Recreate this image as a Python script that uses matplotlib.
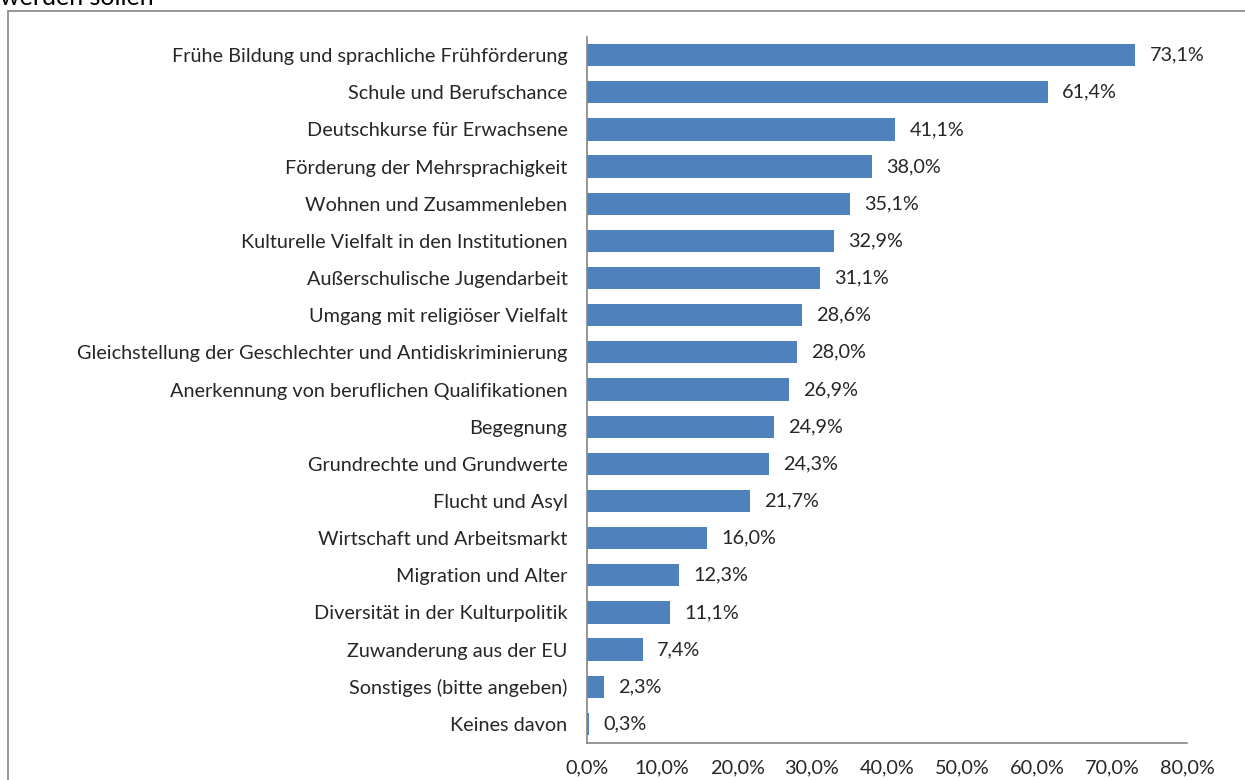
import matplotlib.pyplot as plt
from matplotlib.patches import Rectangle

plt.rcParams['font.family'] = ['Lato', 'DejaVu Sans']

categories = [
    "Frühe Bildung und sprachliche Frühförderung",
    "Schule und Berufschance",
    "Deutschkurse für Erwachsene",
    "Förderung der Mehrsprachigkeit",
    "Wohnen und Zusammenleben",
    "Kulturelle Vielfalt in den Institutionen",
    "Außerschulische Jugendarbeit",
    "Umgang mit religiöser Vielfalt",
    "Gleichstellung der Geschlechter und Antidiskriminierung",
    "Anerkennung von beruflichen Qualifikationen",
    "Begegnung",
    "Grundrechte und Grundwerte",
    "Flucht und Asyl",
    "Wirtschaft und Arbeitsmarkt",
    "Migration und Alter",
    "Diversität in der Kulturpolitik",
    "Zuwanderung aus der EU",
    "Sonstiges (bitte angeben)",
    "Keines davon",
]
values = [73.1, 61.4, 41.1, 38.0, 35.1, 32.9, 31.1, 28.6, 28.0, 26.9,
          24.9, 24.3, 21.7, 16.0, 12.3, 11.1, 7.4, 2.3, 0.3]
xticks = [0, 10, 20, 30, 40, 50, 60, 70, 80]

W, H = 1245, 780
fig = plt.figure(figsize=(W / 100, H / 100), dpi=100)

# outer chart frame (runs off right and bottom edge)
fig.patches.append(Rectangle((8 / W, -0.1), 1.2, 1 - 11 / H + 0.1,
                             transform=fig.transFigure, fill=False,
                             edgecolor='#868686', linewidth=1.2))
# title is mostly cut off at the top in the original
fig.text(0.0, 1 - 5 / H, "werden sollen", fontsize=18, color='black',
         va='baseline', ha='left')

fs = 14.3
ax = fig.add_axes([587 / W, 1 - 742.5 / H, 600 / W, (742.5 - 36.5) / H])
ypos = list(range(len(categories)))
ax.barh(ypos, values, height=0.6, color='#4F81BD')
ax.set_ylim(len(categories) - 0.5, -0.5)
ax.set_xlim(0, 80)
ax.set_yticks(ypos)
ax.set_yticklabels(categories, fontsize=fs, color='#262626')
ax.set_xticks(xticks)
ax.set_xticklabels([f"{t:.1f}%".replace('.', ',') for t in xticks],
                   fontsize=fs, color='#262626')
ax.tick_params(axis='y', length=0, pad=14)
ax.tick_params(axis='x', length=0, pad=12)
for v, y in zip(values, ypos):
    ax.text(v + 1.9, y, f"{v:.1f}%".replace('.', ','), va='center',
            ha='left', fontsize=fs, color='#262626')
for s in ['top', 'right']:
    ax.spines[s].set_visible(False)
for s in ['left', 'bottom']:
    ax.spines[s].set_color('#868686')
    ax.spines[s].set_linewidth(1.2)

fig.savefig('out.png', dpi=100)
